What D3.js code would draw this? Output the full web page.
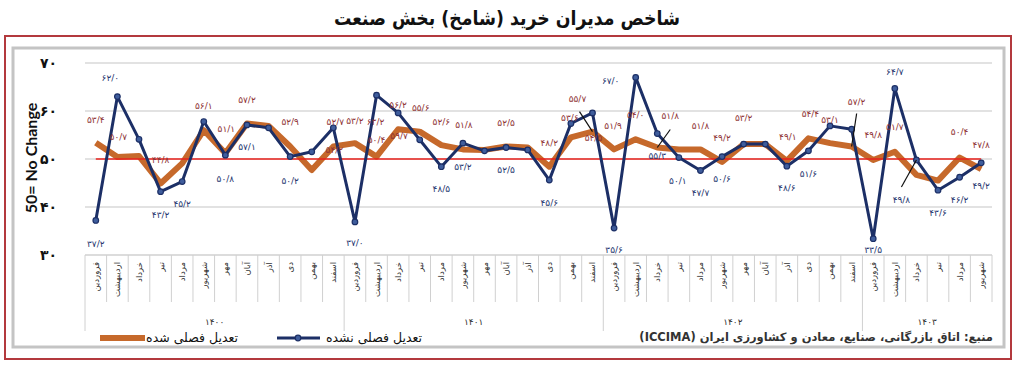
<!DOCTYPE html>
<html><head><meta charset="utf-8">
<script src="https://cdn.jsdelivr.net/npm/d3@7"></script>
<style>body{margin:0;background:#fff}</style></head>
<body><svg id="c" width="1016" height="365"></svg>
<script>
// ---------- data ----------
const monthNames = ["فروردین","اردیبهشت","خرداد","تیر","مرداد","شهریور","مهر","آبان","آذر","دی","بهمن","اسفند"];
const years = ["۱۴۰۰","۱۴۰۱","۱۴۰۲","۱۴۰۳"];
const monthsPerYear = [12,12,12,6];
// not seasonally adjusted (blue)
const nsaValues = [37.2,63.0,54.1,43.2,45.3,57.8,50.8,57.1,56.5,50.5,51.5,56.5,
                   36.9,63.3,59.6,54.0,48.4,53.3,51.7,52.4,51.9,45.6,57.4,59.6,
                   35.6,67.0,55.3,50.3,47.6,50.5,53.1,53.1,48.5,51.7,56.9,56.2,
                   33.4,64.7,49.8,43.5,46.2,49.2];
// seasonally adjusted (orange)
const saValues = [53.4,50.4,50.6,44.9,49.1,56.0,51.2,57.4,56.9,52.6,47.7,52.6,
                  53.3,50.5,56.2,55.7,52.9,52.0,51.9,52.6,52.4,48.4,54.5,55.7,
                  52.0,54.1,52.4,52.0,52.0,49.4,53.1,53.1,49.6,54.3,53.3,52.6,
                  49.8,51.5,46.7,45.5,50.3,47.9];
const yTicks = [30,40,50,60,70];
const baseline = 50;
// data labels as printed on the chart: [category index, text]
const saLabelText = [[0,"۵۳/۴"],[1,"۵۰/۷"],[3,"۴۴/۸"],[5,"۵۶/۱"],[6,"۵۱/۱"],[7,"۵۷/۲"],[9,"۵۲/۹"],
  [11,"۵۲/۷"],[11,"۵۴/۲"],[12,"۵۳/۲"],[13,"۶۳/۲"],[13,"۵۰/۴"],[14,"۵۶/۲"],[14,"۵۹/۷"],[15,"۵۵/۶"],
  [16,"۵۲/۶"],[17,"۵۱/۸"],[19,"۵۲/۵"],[21,"۴۸/۲"],[22,"۵۳/۶"],[23,"۵۵/۷"],[23,"۵۴/۵"],[24,"۵۱/۹"],
  [25,"۵۴/۰"],[26,"۵۱/۸"],[28,"۵۱/۸"],[29,"۴۹/۲"],[30,"۵۳/۲"],[32,"۴۹/۱"],[33,"۵۴/۴"],[34,"۵۳/۱"],
  [35,"۵۷/۲"],[36,"۴۹/۸"],[37,"۵۱/۷"],[40,"۵۰/۴"],[41,"۴۷/۸"]];
const nsaLabelText = [[0,"۳۷/۲"],[1,"۶۲/۰"],[3,"۴۳/۲"],[4,"۴۵/۲"],[6,"۵۰/۸"],[7,"۵۷/۱"],[9,"۵۰/۲"],
  [12,"۳۷/۰"],[16,"۴۸/۵"],[17,"۵۳/۲"],[19,"۵۲/۵"],[21,"۴۵/۶"],[24,"۳۵/۶"],[25,"۶۷/۰"],[26,"۵۵/۳"],
  [27,"۵۰/۱"],[28,"۴۷/۷"],[29,"۵۰/۶"],[32,"۴۸/۶"],[33,"۵۱/۶"],[36,"۳۳/۵"],[37,"۶۴/۷"],[38,"۴۹/۸"],
  [39,"۴۳/۶"],[40,"۴۶/۲"],[41,"۴۹/۲"]];
const titleText = "شاخص مدیران خرید (شامخ) بخش صنعت";
const yTitle = "50= No Change";
const legendSA = "تعدیل فصلی شده";
const legendNSA = "تعدیل فصلی نشده";
const sourceText = "منبع: اتاق بازرگانی، صنایع، معادن و کشاورزی ایران (ICCIMA)";

// ---------- layout (pixel offsets of labels from their point) ----------
const saLabelOffset = [[0,-23],[1,-20],[0,-24],[0,-24],[1,-24],[0,-24],[0,-25],
  [2,-25],[1,3],[0,-22],[-1,-35],[0,-17],[0,-24],[1,7],[1,-24],
  [0,-23],[1,-25],[0,-24],[0,-24],[-1,-20],[-15,-33],[1,6],[-1,-24],
  [0,-24],[13,-32],[0,-24],[0,-24],[0,-26],[1,-24],[2,-25],[0,-23],
  [5,-45],[0,-25],[0,-25],[0,-26],[0,-24]];
const nsaLabelOffset = [[0,23],[-7,-19],[0,23],[0,22],[0,24],[0,22],[0,24],
  [0,21],[0,22],[0,24],[0,22],[0,23],[0,22],[-25,3],[0,22],
  [-1,23],[0,22],[0,22],[0,22],[0,23],[0,11],[0,-17],[-15,40],
  [0,23],[0,23],[0,23]];
// leader lines: [series, index, dx, dy] from point+offset to the point
const leaders = [["sa",23,-13,-20],["sa",26,13,-18],["sa",35,5,-33],["nsa",38,-15,27]];

const toFa = s => String(s).replace(/\d/g, d => "۰۱۲۳۴۵۶۷۸۹"[d]);
const FA = "'DejaVu Sans', sans-serif";

const svg = d3.select("#c");
const n = nsaValues.length;
const x = d3.scaleBand().domain(d3.range(n)).range([85, 992]).padding(0);
const cx = i => x(i) + x.bandwidth()/2;
const y = d3.scaleLinear().domain([30,70]).range([255,63]);

// frames
svg.append("rect").attr("x",5).attr("y",36).attr("width",1006).attr("height",323)
  .attr("fill","#fff").attr("stroke","#b3393d").attr("stroke-width",2);
svg.append("rect").attr("x",13).attr("y",48).attr("width",991).attr("height",299)
  .attr("fill","#fff").attr("stroke","#c4c4c4").attr("stroke-width",3);

// title
svg.append("text").attr("x",507).attr("y",25).attr("text-anchor","middle")
  .attr("direction","rtl").attr("font-family",FA).attr("font-weight","bold")
  .attr("font-size",20).attr("fill","#111").attr("textLength",346)
  .attr("lengthAdjust","spacingAndGlyphs").text(titleText);

// grid
svg.append("g").selectAll("line").data(yTicks.filter(t=>t>30)).join("line")
  .attr("x1",85).attr("x2",992).attr("y1",d=>y(d)).attr("y2",d=>y(d))
  .attr("stroke","#d9d9d9").attr("stroke-width",1.5);
svg.append("line").attr("x1",85).attr("x2",992).attr("y1",y(30)).attr("y2",y(30))
  .attr("stroke","#d0d0d0").attr("stroke-width",1.5);

// y axis
const yAxis = svg.append("g").attr("transform","translate(57,0)")
  .call(d3.axisLeft(y).tickValues(yTicks).tickSize(0).tickPadding(0).tickFormat(d=>toFa(d)));
yAxis.select(".domain").remove();
yAxis.selectAll("text").attr("font-family",FA).attr("font-weight","bold")
  .attr("font-size",14).attr("fill","#111");
svg.append("text").attr("transform","translate(37,158) rotate(-90)").attr("text-anchor","middle")
  .attr("font-family","Lato, sans-serif").attr("font-weight","bold").attr("font-size",16)
  .attr("fill","#111").text(yTitle);

// category axis cells
const yearStarts = monthsPerYear.map((c,i)=>d3.sum(monthsPerYear.slice(0,i)));
const boundaries = d3.range(n+1);
svg.append("g").selectAll("line").data(boundaries).join("line")
  .attr("x1",b=>b<n? x(b): x(n-1)+x.bandwidth()).attr("x2",b=>b<n? x(b): x(n-1)+x.bandwidth())
  .attr("y1",y(30)).attr("y2",b=>yearStarts.includes(b)?331:302)
  .attr("stroke","#d0d0d0").attr("stroke-width",1);
const monthCats = d3.range(n).map(i => monthNames[i % 12]);
svg.append("g").selectAll("text").data(monthCats).join("text")
  .attr("transform",(d,i)=>`translate(${cx(i)+3},262) rotate(-90)`)
  .attr("text-anchor","end").attr("font-family",FA).attr("font-size",8.5).attr("fill","#333")
  .text(d=>d);
svg.append("g").selectAll("text").data(years).join("text")
  .attr("x",(d,i)=>{const s=yearStarts[i], e=s+monthsPerYear[i]-1; return (x(s)+x(e)+x.bandwidth())/2;})
  .attr("y",325).attr("text-anchor","middle").attr("font-family",FA).attr("font-size",9)
  .attr("fill","#333").text(d=>d);

// series
const BLUE = "#1c2f66", ORANGE = "#c6692b";
const line = vals => d3.line().x((d,i)=>cx(i)).y(d=>y(d))(vals);
svg.append("path").attr("d",line(saValues)).attr("fill","none").attr("stroke",ORANGE)
  .attr("stroke-width",6).attr("stroke-linejoin","round");
svg.append("line").attr("x1",cx(0)).attr("x2",cx(n-1)).attr("y1",y(baseline)).attr("y2",y(baseline))
  .attr("stroke","#e8201c").attr("stroke-width",1.6);
svg.append("path").attr("d",line(nsaValues)).attr("fill","none").attr("stroke",BLUE)
  .attr("stroke-width",3).attr("stroke-linejoin","round");
svg.append("g").selectAll("circle").data(nsaValues).join("circle")
  .attr("cx",(d,i)=>cx(i)).attr("cy",d=>y(d)).attr("r",2.8)
  .attr("fill","#3f5d9c").attr("stroke",BLUE).attr("stroke-width",1.2);

// leader lines
const val = (s,i) => s==="sa" ? saValues[i] : nsaValues[i];
svg.append("g").selectAll("line").data(leaders).join("line")
  .attr("x1",d=>cx(d[1])+d[2]).attr("y1",d=>y(val(d[0],d[1]))+d[3])
  .attr("x2",d=>cx(d[1])).attr("y2",d=>y(val(d[0],d[1])))
  .attr("stroke","#111").attr("stroke-width",1.2);

// data labels
svg.append("g").selectAll("text").data(saLabelText).join("text")
  .attr("x",(d,k)=>cx(d[0])+saLabelOffset[k][0]).attr("y",(d,k)=>y(saValues[d[0]])+saLabelOffset[k][1])
  .attr("dy","0.35em").attr("text-anchor","middle").attr("font-family",FA).attr("font-size",9)
  .attr("fill","#8e3234").text(d=>d[1]);
svg.append("g").selectAll("text").data(nsaLabelText).join("text")
  .attr("x",(d,k)=>cx(d[0])+nsaLabelOffset[k][0]).attr("y",(d,k)=>y(nsaValues[d[0]])+nsaLabelOffset[k][1])
  .attr("dy","0.35em").attr("text-anchor","middle").attr("font-family",FA).attr("font-size",9)
  .attr("fill","#26356e").text(d=>d[1]);

// legend
svg.append("line").attr("x1",100).attr("x2",145).attr("y1",338).attr("y2",338)
  .attr("stroke",ORANGE).attr("stroke-width",6);
svg.append("text").attr("x",238).attr("y",342).attr("text-anchor","start").attr("direction","rtl")
  .attr("font-family",FA).attr("font-size",12.5).attr("fill","#111").text(legendSA);
svg.append("line").attr("x1",277).attr("x2",320).attr("y1",338).attr("y2",338)
  .attr("stroke",BLUE).attr("stroke-width",3);
svg.append("circle").attr("cx",298).attr("cy",338).attr("r",2.8)
  .attr("fill","#3f5d9c").attr("stroke",BLUE).attr("stroke-width",1.2);
svg.append("text").attr("x",422).attr("y",342).attr("text-anchor","start").attr("direction","rtl")
  .attr("font-family",FA).attr("font-size",12.5).attr("fill","#111").text(legendNSA);

// source
svg.append("text").attr("x",993).attr("y",341).attr("text-anchor","start").attr("direction","rtl")
  .attr("font-family",FA).attr("font-weight","bold").attr("font-size",11.5).attr("fill","#333")
  .text(sourceText);
</script></body></html>
